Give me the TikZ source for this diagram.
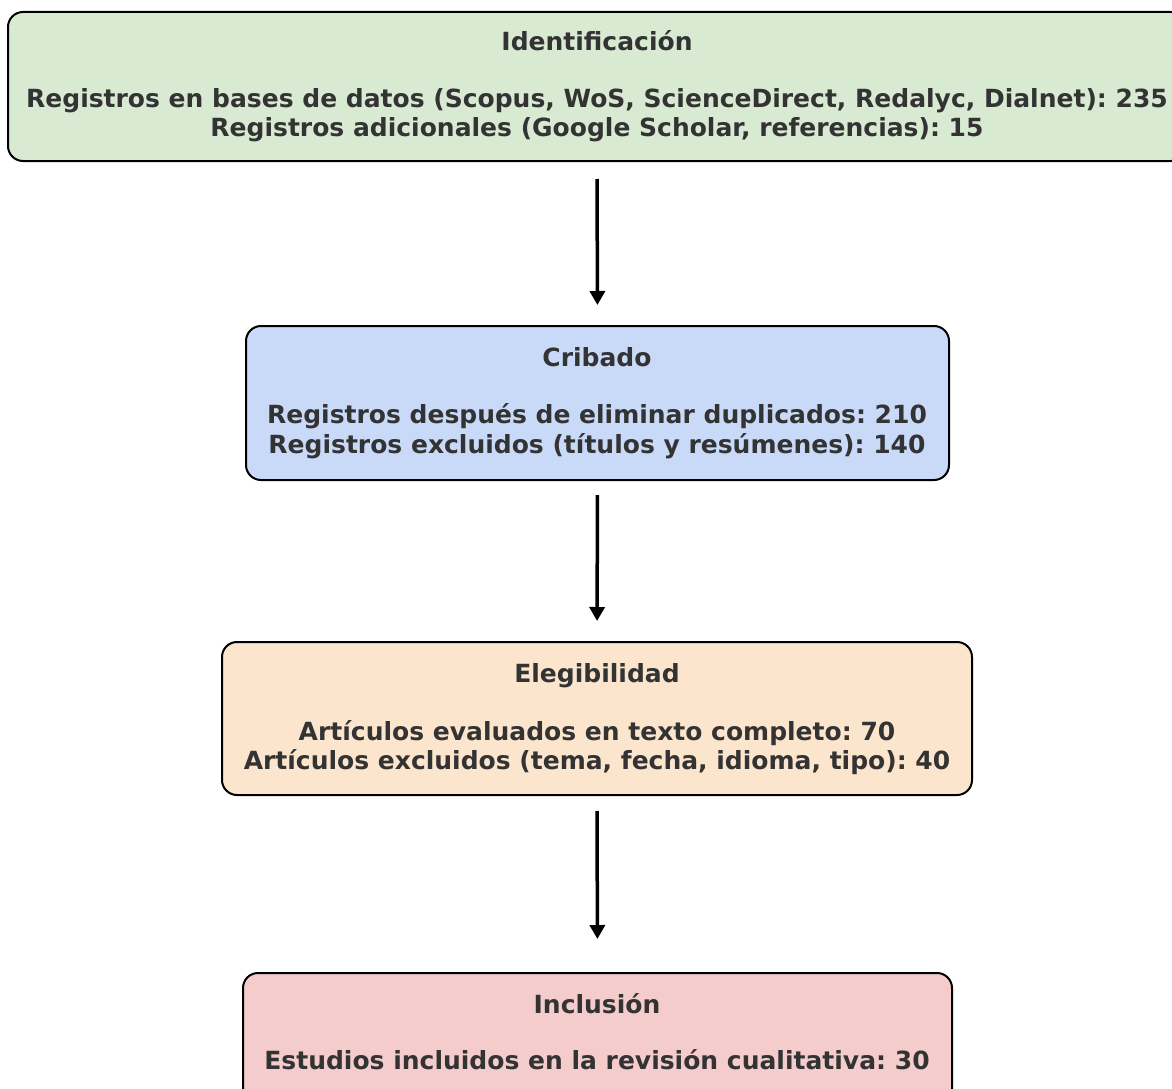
\documentclass[tikz,border=0pt]{standalone}
\usepackage{fontspec}
\setmainfont{DejaVu Sans}
\frenchspacing
\usetikzlibrary{arrows.meta}
\definecolor{cgreen}{HTML}{D9EAD3}
\definecolor{cblue}{HTML}{C9DAF8}
\definecolor{corange}{HTML}{FCE5CD}
\definecolor{cred}{HTML}{F4CCCC}
\definecolor{ctext}{HTML}{333333}
\begin{document}
\begin{tikzpicture}[x=1pt,y=-1pt,
  box/.style={draw=black, line width=2pt, rounded corners=15pt, inner sep=0pt},
  txt/.style={anchor=base, inner sep=0pt, text=ctext, font=\fontsize{25}{30}\selectfont\bfseries},
  conn/.style={line width=3.5pt, -{Triangle[width=15pt,length=14pt]}}]
\useasboundingbox (0,0) rectangle (1172,1089);
\clip (0,0) rectangle (1172,1089);
\node[box, fill=cgreen, minimum width=1178pt, minimum height=149pt] (b1) at (597,86.5) {};
\node[box, fill=cblue, minimum width=703pt, minimum height=154pt] (b2) at (597.5,403) {};
\node[box, fill=corange, minimum width=750pt, minimum height=153pt] (b3) at (597,718.5) {};
\node[box, fill=cred, minimum width=709pt, minimum height=154pt] (b4) at (597.5,1050) {};
\node[txt] (t1) at (597,51) {Identificación};
\node[txt] (t1a) at (597,108) {Registros en bases de datos (Scopus, WoS, ScienceDirect, Redalyc, Dialnet): 235};
\node[txt] (t1b) at (597,136) {Registros adicionales (Google Scholar, referencias): 15};
\node[txt] (t2) at (597,366) {Cribado};
\node[txt] (t2a) at (597,423) {Registros después de eliminar duplicados: 210};
\node[txt] (t2b) at (597,453) {Registros excluidos (títulos y resúmenes): 140};
\node[txt] (t3) at (597,682) {Elegibilidad};
\node[txt] (t3a) at (597,740) {Artículos evaluados en texto completo: 70};
\node[txt] (t3b) at (597,769) {Artículos excluidos (tema, fecha, idioma, tipo): 40};
\node[txt] (t4) at (597,1013) {Inclusión};
\node[txt] (t4a) at (597,1069) {Estudios incluidos en la revisión cualitativa: 30};
\draw[conn, shorten <=17pt, shorten >=20pt] (b1.south) -- (b2.north);
\draw[conn, shorten <=14pt, shorten >=20pt] (b2.south) -- (b3.north);
\draw[conn, shorten <=15pt, shorten >=33pt] (b3.south) -- (b4.north);
\end{tikzpicture}
\end{document}
